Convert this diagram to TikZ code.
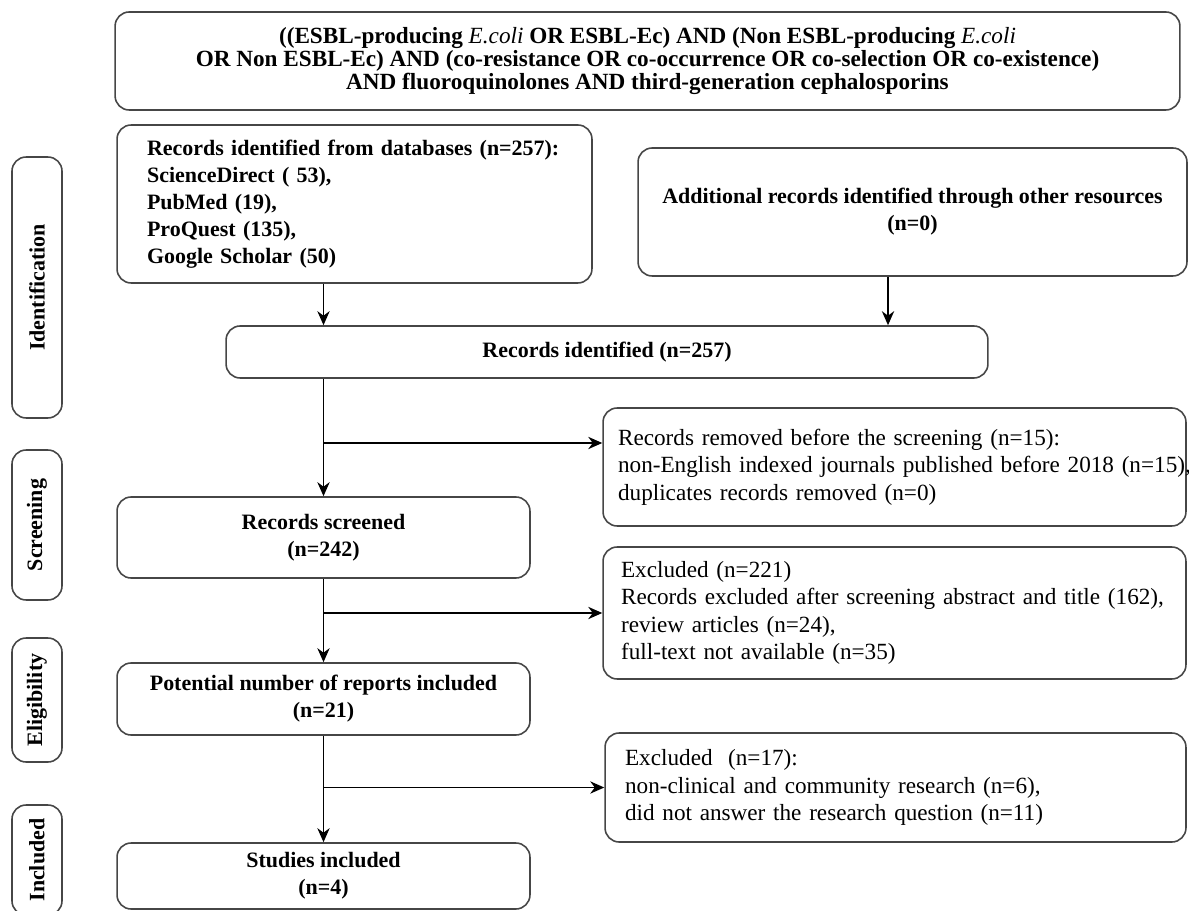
\documentclass[tikz,border=0pt]{standalone}
\usepackage{fontspec}
\setmainfont{Liberation Serif}
\usetikzlibrary{shapes,arrows.meta,positioning}
\definecolor{edgegray}{RGB}{70,70,70}

\begin{document}
\begin{tikzpicture}[x=0.02cm, y=-0.02cm,
	box/.style={draw=edgegray, line width=0.9pt, rounded corners=8pt, fill=white, align=center, inner sep=0pt, font=\fontsize{12.5}{15.4}\selectfont\bfseries},
	exbox/.style={box, align=left, font=\fontsize{13.2}{15.6}\selectfont},
	stage/.style={box, rotate=90, minimum height=1cm},
	arr/.style={draw=black, line width=0.9pt, -{Stealth[length=8pt,width=7pt]}}]
	\useasboundingbox (0,0) rectangle (1189,911);
	\clip (0,0) rectangle (1189,911);

	\node [box, minimum width=21.3cm, minimum height=1.96cm, font=\fontsize{13.2}{13.1}\selectfont\bfseries] (query) at (647.5,61)
		{((ESBL-producing \textit{\mdseries E.coli} OR ESBL-Ec) AND (Non ESBL-producing \textit{\mdseries E.coli}\\
		OR Non ESBL-Ec) AND (co-resistance OR co-occurrence OR co-selection OR co-existence)\\
		AND fluoroquinolones AND third-generation cephalosporins};

	\node [stage, minimum width=5.22cm]	(identification)	at (37,287.5)	{Identification};
	\node [stage, minimum width=3cm]	(screening)		at (37,525)	{Screening};
	\node [stage, minimum width=2.48cm]	(eligibility)		at (37,700)	{Eligibility};
	\node [stage, minimum width=2.2cm]	(included)		at (37,860)	{Included};

	\node [box, align=left, text width=8.3cm, minimum width=9.5cm, minimum height=3.16cm] (db) at (354.5,204)
		{\mbox{Records identified from databases (n=257):}\\ ScienceDirect ( 53),\\ PubMed (19),\\ ProQuest (135),\\ Google Scholar (50)};
	\node [box, minimum width=10.98cm, minimum height=2.56cm] (other) at (912.5,212)
		{Additional records identified through other resources\\ (n=0)};
	\node [box, minimum width=15.24cm, minimum height=1.04cm] (ident) at (607,352) {Records identified (n=257)};

	\node [exbox, text width=11.06cm, minimum width=11.66cm, minimum height=2.36cm] (removed) at (894.5,467)
		{Records removed before the screening (n=15):\\ \mbox{non-English indexed journals published before 2018 (n=15),}\\ duplicates records removed (n=0)};
	\node [box, minimum width=8.26cm, minimum height=1.62cm] (screened) at (323.5,537.5) {Records screened\\ (n=242)};

	\node [exbox, text width=10.94cm, minimum width=11.66cm, minimum height=2.64cm] (excl221) at (894.5,613)
		{Excluded (n=221)\\ Records excluded after screening abstract and title (162),\\ review articles (n=24),\\ full-text not available (n=35)};
	\node [box, minimum width=8.26cm, minimum height=1.44cm] (potential) at (323.5,699) {Potential number of reports included\\ (n=21)};

	\node [exbox, text width=10.82cm, minimum width=11.62cm, minimum height=2.18cm] (excl17) at (895.5,787.5)
		{Excluded~~(n=17):\\ non-clinical and community research (n=6),\\ did not answer the research question (n=11)};
	\node [box, minimum width=8.26cm, minimum height=1.32cm] (studies) at (323.5,876) {Studies included\\ (n=4)};

	\coordinate (split1) at (323.5,443);

	\draw [arr] (db.south -| screened) -- (ident.north -| screened);
	\draw [arr] ([xshift=-0.49cm]other.south) -- ([xshift=-0.49cm]other.south |- ident.north);
	\draw [arr] (ident.south -| screened) -- (screened.north);
	\draw [arr] (split1) -- (split1 -| removed.west);
	\draw [arr] (screened.south) -- (potential.north);
	\draw [arr] (screened |- excl221.west) -- (excl221.west);
	\draw [arr] (potential.south) -- (studies.north);
	\draw [arr] (potential |- excl17.west) -- (excl17.west);
\end{tikzpicture}
\end{document}
